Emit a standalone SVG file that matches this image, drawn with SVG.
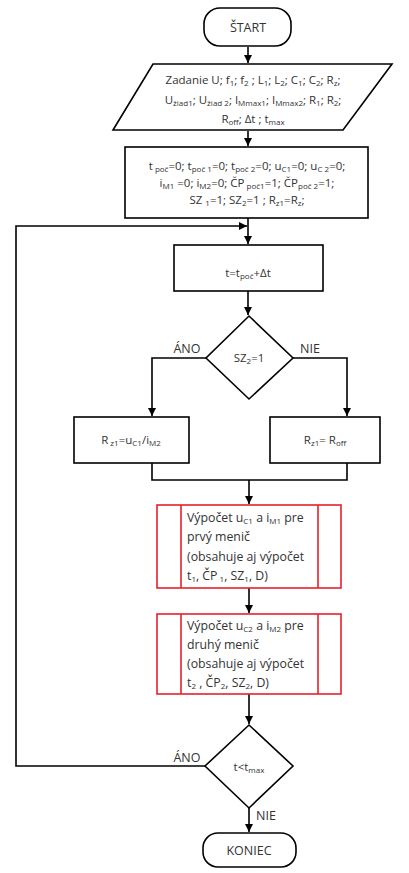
<svg xmlns="http://www.w3.org/2000/svg" width="409" height="873" viewBox="0 0 409 873">
  <defs>
    <marker id="arr" viewBox="0 0 10 10" refX="10" refY="5" markerWidth="8" markerHeight="8" markerUnits="userSpaceOnUse" orient="auto">
      <path d="M0,0 L10,5 L0,10 z" fill="#000"/>
    </marker>
    <style>
      .shape { fill: #fff; stroke: #000; stroke-width: 1.6; }
      .red { fill: #fff; stroke: #e8202a; stroke-width: 1.6; }
      .ln { fill: none; stroke: #000; stroke-width: 1.6; }
      text { font-family: "Open Sans", "Noto Sans", "Liberation Sans", sans-serif; font-size: 11.5px; fill: #333; }
      .c { text-anchor: middle; }
      .s { font-size: 8px; baseline-shift: -1.5px; }
      .big { font-size: 12.5px; }
      .blk { font-size: 12.3px; }
    </style>
  </defs>
  <rect width="409" height="873" fill="#fff"/>

  <!-- connectors -->
  <g id="connectors">
    <line class="ln" x1="248" y1="47" x2="248" y2="63" marker-end="url(#arr)"/>
    <line class="ln" x1="248" y1="131" x2="248" y2="146" marker-end="url(#arr)"/>
    <line class="ln" x1="248" y1="218" x2="248" y2="244" marker-end="url(#arr)"/>
    <line class="ln" x1="248" y1="291" x2="248" y2="315" marker-end="url(#arr)"/>
    <polyline class="ln" points="206,358 152,358 152,416" marker-end="url(#arr)"/>
    <polyline class="ln" points="293,358 347,358 347,416" marker-end="url(#arr)"/>
    <polyline class="ln" points="152,463 152,480 347,480 347,463"/>
    <line class="ln" x1="249" y1="480" x2="249" y2="504" marker-end="url(#arr)"/>
    <line class="ln" x1="249" y1="588" x2="249" y2="613" marker-end="url(#arr)"/>
    <line class="ln" x1="249" y1="694" x2="249" y2="724" marker-end="url(#arr)"/>
    <line class="ln" x1="249" y1="808" x2="249" y2="832" marker-end="url(#arr)"/>
    <polyline class="ln" points="205,766 16,766 16,226 247,226" marker-end="url(#arr)"/>
    <text class="c big" x="187" y="353">ÁNO</text>
    <text class="c big" x="310" y="353">NIE</text>
    <text class="c big" x="187" y="762">ÁNO</text>
    <text class="c big" x="266" y="820">NIE</text>
  </g>

  <g id="start">
    <rect class="shape" x="204" y="8" width="87" height="38" rx="16"/>
    <text class="c big" x="248" y="32">ŠTART</text>
  </g>

  <g id="input">
    <polygon class="shape" points="153,64 392,64 343,130 113,130"/>
    <text class="c" x="253" y="84">Zadanie U; f<tspan class="s">1</tspan>; f<tspan class="s">2</tspan> ; L<tspan class="s">1</tspan>; L<tspan class="s">2</tspan>; C<tspan class="s">1</tspan>; C<tspan class="s">2</tspan>; R<tspan class="s">z</tspan>;</text>
    <text class="c" x="253" y="104">U<tspan class="s">žiad1</tspan>; U<tspan class="s">žiad 2</tspan>; I<tspan class="s">Mmax1</tspan>; I<tspan class="s">Mmax2</tspan>; R<tspan class="s">1</tspan>; R<tspan class="s">2</tspan>;</text>
    <text class="c" x="253" y="123">R<tspan class="s">off</tspan>; Δt ; t<tspan class="s">max</tspan></text>
  </g>

  <g id="init">
    <rect class="shape" x="125" y="147" width="243" height="71"/>
    <text class="c" x="247" y="170">t<tspan class="s"> poč</tspan>=0; t<tspan class="s">poč 1</tspan>=0; t<tspan class="s">poč 2</tspan>=0; u<tspan class="s">C1</tspan>=0; u<tspan class="s">C 2</tspan>=0;</text>
    <text class="c" x="247" y="187">i<tspan class="s">M1</tspan> =0; i<tspan class="s">M2</tspan>=0; ČP<tspan class="s"> poč1</tspan>=1; ČP<tspan class="s">poč 2</tspan>=1;</text>
    <text class="c" x="247" y="204">SZ <tspan class="s">1</tspan>=1; SZ<tspan class="s">2</tspan>=1 ; R<tspan class="s">z1</tspan>=R<tspan class="s">z</tspan>;</text>
  </g>

  <g id="step">
    <rect class="shape" x="174" y="245" width="149" height="46"/>
    <text class="c" x="248" y="277">t=t<tspan class="s">poč</tspan>+Δt</text>
  </g>

  <g id="cond-sz2">
    <polygon class="shape" points="249,316 293,358 249,399 206,358"/>
    <text class="c" x="249" y="362">SZ<tspan class="s">2</tspan>=1</text>
  </g>

  <g id="rz1-calc">
    <rect class="shape" x="74" y="417" width="115" height="46"/>
    <text class="c" x="131" y="444">R<tspan class="s"> z1</tspan>=u<tspan class="s">C1</tspan>/i<tspan class="s">M2</tspan></text>
  </g>

  <g id="rz1-off">
    <rect class="shape" x="270" y="417" width="110" height="46"/>
    <text class="c" x="325" y="444">R<tspan class="s">z1</tspan>= R<tspan class="s">off</tspan></text>
  </g>

  <g id="conv1">
    <rect class="red" x="157" y="505" width="184" height="83"/>
    <line class="red" x1="181" y1="505" x2="181" y2="588"/>
    <line class="red" x1="318" y1="505" x2="318" y2="588"/>
    <text class="blk" x="187" y="522">Výpočet u<tspan class="s">C1</tspan> a i<tspan class="s">M1</tspan> pre</text>
    <text class="blk" x="187" y="541">prvý menič</text>
    <text class="blk" x="187" y="561">(obsahuje aj výpočet</text>
    <text class="blk" x="187" y="580">t<tspan class="s">1</tspan>, ČP<tspan class="s"> 1</tspan>, SZ<tspan class="s">1</tspan>, D)</text>
  </g>

  <g id="conv2">
    <rect class="red" x="157" y="614" width="184" height="80"/>
    <line class="red" x1="181" y1="614" x2="181" y2="694"/>
    <line class="red" x1="318" y1="614" x2="318" y2="694"/>
    <text class="blk" x="187" y="630">Výpočet u<tspan class="s">C2</tspan> a i<tspan class="s">M2</tspan> pre</text>
    <text class="blk" x="187" y="649">druhý menič</text>
    <text class="blk" x="187" y="668">(obsahuje aj výpočet</text>
    <text class="blk" x="187" y="687">t<tspan class="s">2</tspan> , ČP<tspan class="s">2</tspan>, SZ<tspan class="s">2</tspan>, D)</text>
  </g>

  <g id="cond-t">
    <polygon class="shape" points="249,725 293,766 249,808 205,766"/>
    <text class="c" x="249" y="771">t&lt;t<tspan class="s">max</tspan></text>
  </g>

  <g id="end">
    <rect class="shape" x="203" y="833" width="93" height="34" rx="15"/>
    <text class="c big" x="249" y="855">KONIEC</text>
  </g>
</svg>
